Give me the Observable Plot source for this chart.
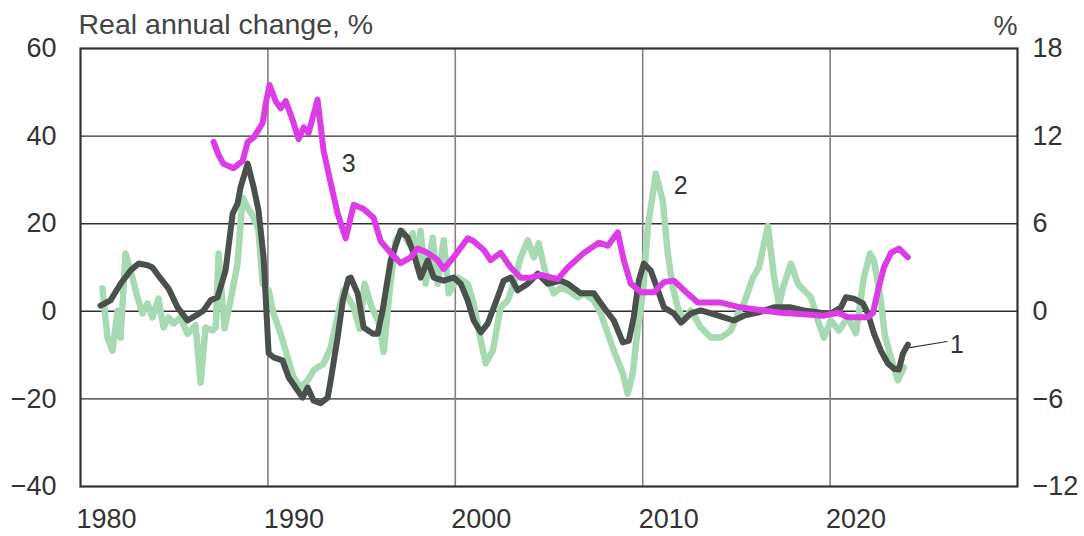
<!DOCTYPE html>
<html><head><meta charset="utf-8">
<script src="https://cdn.jsdelivr.net/npm/d3@7"></script>
<script src="https://cdn.jsdelivr.net/npm/@observablehq/plot@0.6"></script>
<style>body{margin:0;background:#fff;}</style>
</head><body><div id="chart"></div>
<script>
// ---- Data ----
const xTickYears = [1980, 1990, 2000, 2010, 2020];
const leftTicks = [-40, -20, 0, 20, 40, 60];
const rightTicks = [-12, -6, 0, 6, 12, 18];
const rightRatio = 0.3; // right-axis % per left-axis unit

// Series 1 (dark): real annual change, %
const s1Years = [1981.07,1981.60,1982.14,1982.67,1983.10,1983.58,1983.84,1984.27,1984.70,1985.18,1985.71,1986.14,1986.57,1986.94,1987.31,1987.74,1988.12,1988.38,1988.54,1988.92,1989.24,1989.50,1989.77,1990.04,1990.30,1990.78,1991.11,1991.59,1991.85,1992.12,1992.44,1992.81,1993.19,1993.35,1993.72,1994.00,1994.30,1994.42,1994.79,1995.11,1995.59,1995.86,1996.12,1996.55,1997.08,1997.46,1997.78,1998.15,1998.53,1998.85,1999.38,1999.91,2000.29,2000.66,2000.98,2001.36,2001.73,2002.26,2002.58,2002.96,2003.33,2003.87,2004.40,2004.93,2005.63,2006.00,2006.70,2007.39,2007.92,2008.46,2008.94,2009.26,2009.52,2009.79,2010.06,2010.43,2010.81,2011.13,2011.66,2012.04,2012.57,2013.10,2013.64,2014.33,2014.86,2015.40,2016.15,2017.00,2017.91,2018.60,2019.51,2020.04,2020.58,2020.84,2021.27,2021.75,2022.02,2022.34,2022.71,2023.09,2023.41,2023.67,2023.89,2024.15];
const s1Values = [1.3,2.5,6.3,9.3,10.9,10.5,10.0,7.5,5.2,0.9,-2.1,-1.0,0.2,2.5,3.2,9.3,22.3,24.6,28.3,33.7,28.3,23.0,12.3,-9.6,-10.5,-11.2,-15.1,-18.1,-19.7,-17.4,-20.4,-21.0,-19.7,-15.8,-6.0,2.5,7.5,7.7,4.1,-3.7,-5.1,-5.1,0.2,11.6,18.4,16.8,13.2,7.7,11.6,7.7,7.0,7.7,6.3,2.5,-2.1,-4.8,-2.8,3.2,7.0,7.7,4.8,6.3,8.6,6.3,7.0,6.3,4.1,4.1,0.9,-2.1,-7.1,-6.7,-1.4,7.0,10.9,9.3,4.8,0.9,-0.5,-2.6,-0.5,0.2,-0.5,-1.4,-2.1,-1.0,-0.3,0.9,0.9,0.2,-0.3,-0.5,0.9,3.2,2.9,1.8,-0.5,-5.1,-9.0,-11.9,-13.1,-13.3,-9.6,-7.6];

// Series 2 (light green): real annual change, %
const s2Years = [1981.17,1981.44,1981.71,1981.98,1982.14,1982.40,1982.67,1983.04,1983.31,1983.58,1983.84,1984.16,1984.43,1984.70,1984.97,1985.34,1985.71,1986.14,1986.41,1986.67,1987.05,1987.21,1987.37,1987.58,1987.69,1988.01,1988.38,1988.65,1988.92,1989.24,1989.50,1989.72,1990.04,1990.30,1990.68,1991.05,1991.37,1991.75,1992.12,1992.44,1992.65,1992.97,1993.35,1993.72,1994.04,1994.58,1994.90,1995.16,1995.54,1995.91,1996.18,1996.50,1996.82,1997.19,1997.51,1997.73,1997.99,1998.15,1998.42,1998.79,1999.06,1999.38,1999.65,2000.13,2000.66,2000.98,2001.25,2001.62,2002.00,2002.42,2002.80,2003.12,2003.49,2003.87,2004.19,2004.45,2004.78,2005.25,2005.63,2006.00,2006.54,2006.86,2007.39,2007.76,2008.14,2008.46,2008.94,2009.20,2009.47,2009.74,2010.01,2010.27,2010.70,2011.07,2011.34,2011.61,2011.87,2012.19,2012.57,2013.10,2013.64,2014.17,2014.70,2015.08,2015.40,2015.88,2016.20,2016.68,2017.00,2017.27,2017.53,2017.91,2018.28,2018.60,2018.98,2019.35,2019.67,2020.04,2020.47,2020.95,2021.38,2021.80,2022.13,2022.34,2022.71,2022.92,2023.24,2023.62,2023.94];
const s2Values = [5.2,-6.0,-9.0,0.2,-6.0,13.2,9.3,3.2,-0.5,1.8,-1.4,2.9,-3.7,-1.4,-2.8,-1.4,-5.1,-3.2,-16.3,-3.7,-4.4,-3.7,13.2,1.8,-3.9,2.5,10.9,26.0,23.7,21.4,18.4,6.3,4.8,-0.5,-5.1,-10.5,-15.1,-17.4,-15.8,-13.5,-12.8,-12.0,-8.3,-1.0,4.8,0.9,-4.0,6.3,0.9,-2.5,-9.3,4.8,16.2,18.4,15.5,17.8,10.0,18.4,6.3,16.8,6.3,16.2,4.1,7.7,6.3,1.8,-4.4,-11.9,-9.0,0.9,2.5,6.3,12.3,16.2,12.3,15.5,9.3,4.1,5.4,4.8,3.2,4.1,2.5,-0.5,-5.1,-9.0,-14.2,-18.8,-14.2,-3.7,4.1,19.1,31.4,25.3,13.2,5.4,0.9,-2.1,0.2,-3.7,-6.0,-6.0,-4.4,-0.5,1.8,7.7,10.0,19.5,8.0,1.5,6.0,10.9,6.3,4.8,3.2,-2.1,-6.0,-2.1,-4.4,-1.4,-5.0,7.7,13.2,11.6,2.5,-5.5,-10.5,-15.8,-12.8];

// Series 3 (magenta): %, right axis
const s3Years = [1987.10,1987.37,1987.63,1988.17,1988.65,1988.92,1989.24,1989.72,1989.88,1990.09,1990.41,1990.68,1990.95,1991.32,1991.64,1991.91,1992.17,1992.65,1992.97,1993.35,1993.72,1994.15,1994.58,1995.11,1995.64,1996.02,1996.55,1997.08,1997.62,1997.99,1998.53,1999.06,1999.38,1999.91,2000.66,2000.98,2001.52,2001.89,2002.42,2002.96,2003.49,2004.03,2004.56,2005.47,2006.00,2006.86,2007.66,2008.14,2008.67,2008.99,2009.36,2009.90,2010.59,2011.13,2011.66,2012.41,2012.94,2014.17,2015.08,2016.15,2017.37,2018.60,2019.67,2020.42,2020.95,2022.02,2022.29,2022.55,2022.87,2023.25,2023.67,2024.15];
const s3Values = [11.6,10.7,10.1,9.8,10.3,11.6,11.9,12.9,14.2,15.5,14.4,13.9,14.4,13.1,11.8,12.6,12.2,14.5,11.0,8.8,6.7,5.0,7.3,7.0,6.4,4.8,4.0,3.3,3.7,4.3,4.0,3.5,2.9,3.7,5.0,4.8,4.2,3.5,4.0,3.0,2.3,2.3,2.5,2.2,3.0,4.0,4.7,4.5,5.4,3.5,1.9,1.3,1.3,2.0,2.1,1.2,0.6,0.6,0.3,0.1,-0.1,-0.2,-0.3,-0.1,-0.4,-0.4,-0.1,1.4,3.0,4.0,4.3,3.7];

// Labels
const seriesLabels = [
  {year: 1994.31, value: 33.7, text: "3"},
  {year: 2012.03, value: 28.5, text: "2"},
  {year: 2026.77, value: -7.8, text: "1"}
];
const leaderYears = [2024.26, 2026.24];
const leaderValues = [-8.3, -6.9];

// ---- Build tables ----
const s1 = s1Years.map((y, i) => ({year: y, value: s1Values[i]}));
const s2 = s2Years.map((y, i) => ({year: y, value: s2Values[i]}));
const s3 = s3Years.map((y, i) => ({year: y, value: s3Values[i]}));
const leader = leaderYears.map((y, i) => ({year: y, value: leaderValues[i]}));

const minus = v => (v < 0 ? "\u2212" + Math.abs(v) : String(v));
const FONT = "Liberation Sans, Arial, Helvetica, sans-serif";
const TXT = "#333";

const chart = Plot.plot({
  width: 1084,
  height: 536,
  marginLeft: 80,
  marginRight: 67,
  marginTop: 48,
  marginBottom: 50,
  style: {fontFamily: FONT, fontSize: "27px", color: TXT, background: "#fff"},
  x: {domain: [1980, 2030]},
  y: {domain: [-40, 60]},
  marks: [
    Plot.ruleY([-20, 0, 20, 40], {stroke: "#2e2e2e", strokeWidth: 1.4}),
    Plot.ruleX([1990, 2000, 2010, 2020], {stroke: "#8a7d7d", strokeWidth: 1.6}),
    Plot.frame({stroke: "#333", strokeWidth: 2.2}),
    Plot.axisY({ticks: leftTicks, label: null, tickSize: 0, tickPadding: 24, tickFormat: minus, fontSize: 27, fill: TXT}),
    Plot.axisY({anchor: "right", label: null, ticks: rightTicks.map(v => v / rightRatio), tickSize: 0, tickPadding: 15,
      tickFormat: d => minus(Math.round(d * rightRatio)), fontSize: 27, fill: TXT}),
    Plot.axisX({ticks: xTickYears, label: null, tickSize: 0, tickPadding: 22, dx: 26, tickFormat: d => String(d), fontSize: 27, fill: TXT}),
    Plot.line(s2, {x: "year", y: "value", stroke: "#a7d9b3", strokeWidth: 6.5, strokeLinejoin: "round", strokeLinecap: "round"}),
    Plot.line(s1, {x: "year", y: "value", stroke: "#4a504b", strokeWidth: 6, strokeLinejoin: "round", strokeLinecap: "round"}),
    Plot.line(s3, {x: "year", y: d => d.value / rightRatio, stroke: "#dc3be6", strokeWidth: 6, strokeLinejoin: "round", strokeLinecap: "round"}),
    Plot.line(leader, {x: "year", y: "value", stroke: "#333", strokeWidth: 1.2}),
    Plot.text(seriesLabels, {x: "year", y: "value", text: "text", fontSize: 25, fill: TXT}),
    Plot.text(["Real annual change, %"], {frameAnchor: "top-left", textAnchor: "start", lineAnchor: "bottom", dx: -2, dy: -15, fontSize: 28.5, fill: "#444"}),
    Plot.text(["%"], {frameAnchor: "top-right", textAnchor: "end", lineAnchor: "bottom", dx: 0, dy: -14, fontSize: 27, fill: "#444"})
  ]
});
document.getElementById("chart").appendChild(chart);
</script>
</body></html>
